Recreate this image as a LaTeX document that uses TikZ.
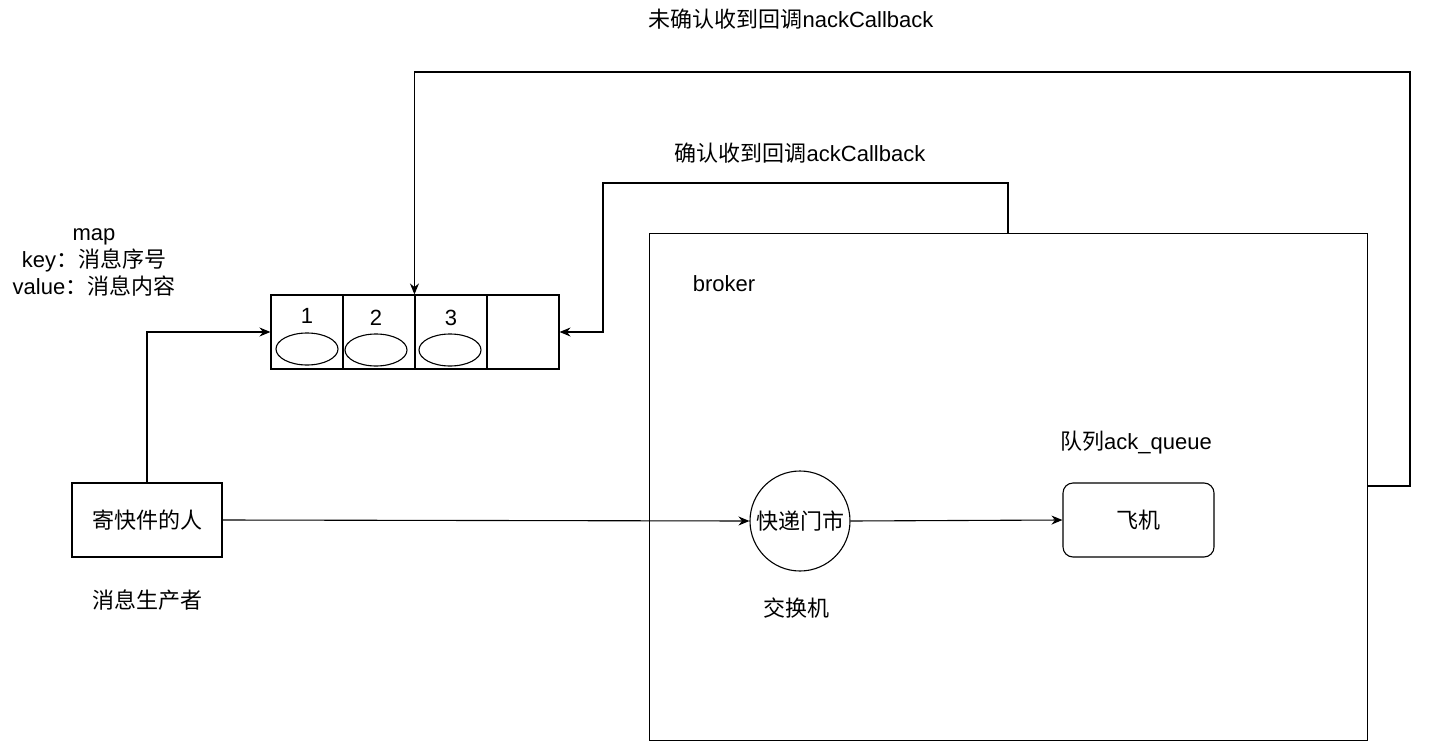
\documentclass[tikz,border=0pt]{standalone}
\usepackage{fontspec}
\setmainfont{Liberation Sans}
\newfontfamily\cjk{Noto Sans CJK SC}
\newcommand{\zh}[1]{{\cjk #1}}
\usetikzlibrary{arrows.meta,shapes.geometric}
\begin{document}
\begin{tikzpicture}[x=1pt,y=-1pt,
  font=\fontsize{22}{27}\selectfont,
  line/.style={draw=black, line width=1.1pt},
  arr/.style={line, -{Stealth[length=11pt,width=9pt]}},
  box/.style={line, rectangle, inner sep=0pt},
  cell/.style={box, minimum width=72pt, minimum height=74pt},
  slot/.style={line, ellipse, minimum width=62pt, minimum height=32pt, inner sep=0pt},
  lbl/.style={inner sep=0pt, align=center}]
\useasboundingbox (0,0) rectangle (1434,752);
% broker
\node[box, minimum width=718pt, minimum height=507pt, anchor=north west] (broker) at (649,233) {};
\node[lbl] (brokerlbl) at (724,284) {broker};
% producer
\node[box, minimum width=150pt, minimum height=74pt] (prod) at (147,520) {\zh{寄快件的人}};
\node[lbl] (prodlbl) at (147,600) {\zh{消息生产者}};
% map array
\node[cell] (c1) at (307,332) {};
\node[cell] (c2) at (379,332) {};
\node[cell] (c3) at (451,332) {};
\node[cell] (c4) at (523,332) {};
\node[slot] (e1) at (307,349) {};
\node[slot] (e2) at (376,350) {};
\node[slot] (e3) at (450,350) {};
\node[lbl] (n1) at (307,316) {1};
\node[lbl] (n2) at (376,318) {2};
\node[lbl] (n3) at (451,318) {3};
\node[lbl] (maplbl) at (94,262) {map\\key\zh{：消息序号}\\value\zh{：消息内容}};
% exchange and queue
\node[line, circle, minimum size=100pt, inner sep=0pt] (ex) at (800,521) {\zh{快递门市}};
\node[lbl] (exlbl) at (796,608) {\zh{交换机}};
\node[line, rectangle, rounded corners=10pt, minimum width=151pt, minimum height=74pt] (q) at (1138.5,520) {\zh{飞机}};
\node[lbl] (qlbl) at (1136,443) {\zh{队列}ack\_queue};
% callback labels
\node[lbl] (acklbl) at (800,153) {\zh{确认收到回调}ackCallback};
\node[lbl] (nacklbl) at (791,19) {\zh{未确认收到回调}nackCallback};
% connectors
\draw[arr] (prod.north) |- (c1.west);
\draw[arr] (prod.east) -- (ex.west);
\draw[arr] (ex.east) -- (q.west);
\coordinate (ackstart) at (1008,233);
\coordinate (ackturn) at (603,183);
\draw[arr] (ackstart) |- (ackturn) |- (c4.east);
\coordinate (nackstart) at (1367,486);
\coordinate (nackturn) at (1410,72);
\draw[arr] (nackstart) -| (nackturn) -| (c3.north west);
\end{tikzpicture}
\end{document}
